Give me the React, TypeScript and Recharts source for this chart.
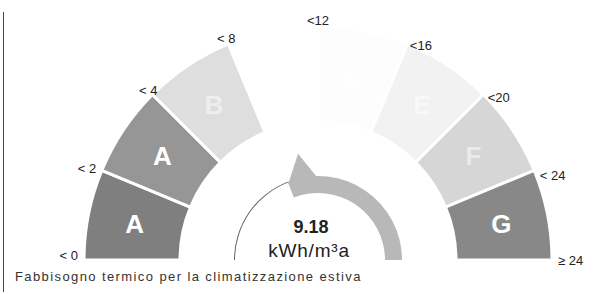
import React from 'react';
import { PieChart, Pie, Cell } from 'recharts';

// ---- data ----
const classBounds = ['< 0', '< 2', '< 4', '< 8', '<12', '<16', '<20', '< 24', '≥ 24'];
const classLetters = ['A', 'A', 'B', 'C', 'D', 'E', 'F', 'G'];
const classSpan = [1, 1, 1, 1, 1, 1, 1, 1]; // equal-width class sectors
const classShades = ['#7f7f7f', '#969696', '#dedede', '#ffffff', '#fdfdfd', '#f2f2f2', '#d6d6d6', '#888888'];
const demandValue = 9.18;
const demandMax = 24;
const demandUnit = 'kWh/m³a';
const caption = 'Fabbisogno termico per la climatizzazione estiva';

const classData = classLetters.map((letter, i) => ({ name: letter, value: classSpan[i] }));
const gaugeData = [
  { name: 'value', value: demandValue },
  { name: 'rest', value: demandMax - demandValue },
];

const RAD = Math.PI / 180;
const polar = (cx: number, cy: number, r: number, a: number): [number, number] => [
  cx + r * Math.cos(a * RAD),
  cy - r * Math.sin(a * RAD),
];

const FONT = '"Liberation Sans", Arial, sans-serif';

const boundaryLabel = (cx: number, cy: number, angle: number, text: string, key: string) => {
  const [x, y0] = polar(cx, cy, 240, angle);
  const c = Math.cos(angle * RAD);
  const anchor = c > 0.3 ? 'start' : c < -0.8 ? 'end' : 'middle';
  const dy = angle > 1 && angle < 80 ? 7 : angle > 170 ? -5 : 0;
  return (
    <text key={key} x={x} y={y0 + dy} textAnchor={anchor} dominantBaseline="central"
      fontFamily={FONT} fontSize={13} fill="#222">
      {text}
    </text>
  );
};

const renderClassLabel = (p: any) => {
  const { cx, cy, startAngle, endAngle, midAngle, index } = p;
  const [lx, ly] = polar(cx, cy, 187, midAngle);
  return (
    <g>
      <text x={lx} y={ly} textAnchor="middle" dominantBaseline="central" fontFamily={FONT}
        fontWeight="bold" fontSize={26} fill="#ffffff" fillOpacity={index >= 2 && index <= 6 ? 0.5 : 1}>
        {classLetters[index]}
      </text>
      {boundaryLabel(cx, cy, startAngle, classBounds[index], 's')}
      {index === classLetters.length - 1 ? boundaryLabel(cx, cy, endAngle, classBounds[index + 1], 'e') : null}
    </g>
  );
};

const renderGaugeLabel = (p: any) => {
  const { cx, cy, startAngle, index } = p;
  if (index === 0) {
    return (
      <g>
        <text x={cx - 7} y={cy - 33} textAnchor="middle" dominantBaseline="central" fontFamily={FONT}
          fontWeight="bold" fontSize={18} fill="#222">
          {demandValue.toFixed(2)}
        </text>
        <text x={cx - 9} y={cy - 10} textAnchor="middle" dominantBaseline="central" fontFamily={FONT}
          fontSize={19} letterSpacing={0.8} fill="#222">
          {demandUnit}
        </text>
      </g>
    );
  }
  // pointer triangle, starting at the value angle
  const a = startAngle;
  const [x1, y1] = polar(cx, cy, 82, a);
  const [x2, y2] = polar(cx, cy, 82, a - 21);
  const [x3, y3] = polar(cx, cy, 108, a - 10.5);
  return <polygon points={`${x1},${y1} ${x2},${y2} ${x3},${y3}`} fill="#b8b8b8" />;
};

export default function App() {
  return (
    <div style={{ position: 'absolute', left: 0, top: 0, width: 597, height: 294, background: '#fff' }}>
      <div style={{ position: 'absolute', left: 3, top: 12, width: 1, height: 280, background: '#444' }} />
      <PieChart width={597} height={294} margin={{ top: 0, right: 0, bottom: 0, left: 0 }}>
        <Pie data={classData} dataKey="value" cx={318} cy={260} innerRadius={138} outerRadius={234}
          startAngle={180} endAngle={0} stroke="#ffffff" strokeWidth={3} isAnimationActive={false}
          label={renderClassLabel} labelLine={false}>
          {classData.map((d, i) => <Cell key={i} fill={classShades[i]} />)}
        </Pie>
        <Pie data={gaugeData} dataKey="value" cx={318} cy={260} innerRadius={67} outerRadius={84}
          startAngle={180} endAngle={0} stroke="none" isAnimationActive={false}
          label={renderGaugeLabel} labelLine={false}>
          <Cell fill="#ffffff" />
          <Cell fill="#b8b8b8" />
        </Pie>
        <Pie data={gaugeData} dataKey="value" cx={318} cy={260} innerRadius={83} outerRadius={84}
          startAngle={180} endAngle={0} stroke="none" isAnimationActive={false}>
          <Cell fill="#666666" />
          <Cell fill="none" />
        </Pie>
      </PieChart>
      <div style={{ position: 'absolute', left: 15, top: 269, fontFamily: FONT, fontSize: 13,
        letterSpacing: 1.4, color: '#333', whiteSpace: 'nowrap' }}>
        {caption}
      </div>
    </div>
  );
}
